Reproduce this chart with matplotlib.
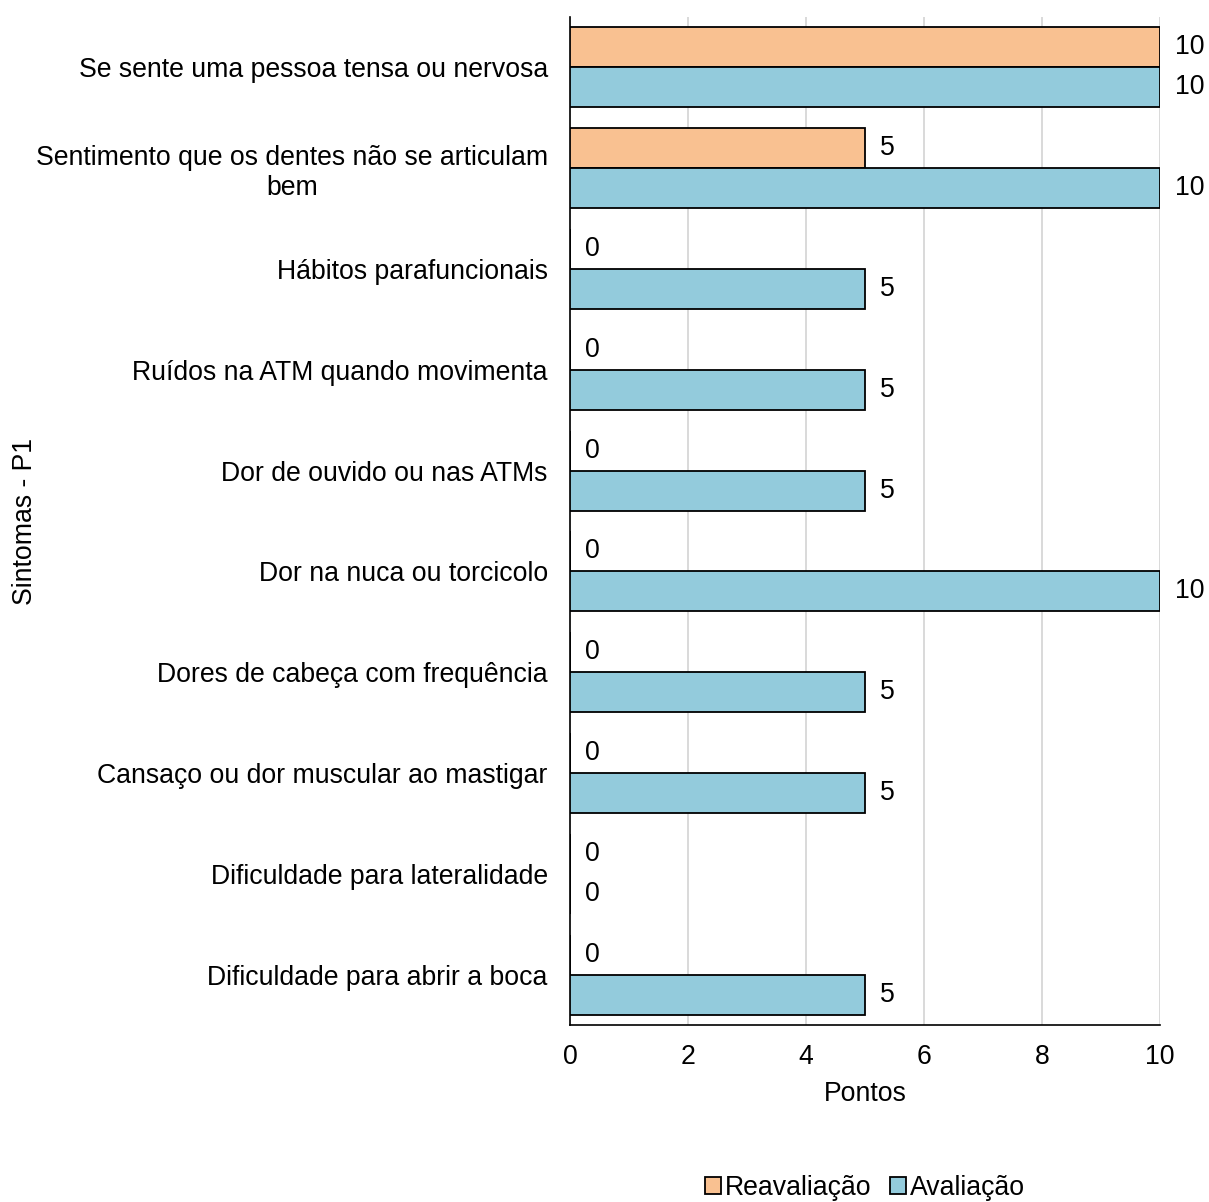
import matplotlib
matplotlib.use("Agg")
import matplotlib.pyplot as plt
import numpy as np

categories = [
    "Se sente uma pessoa tensa ou nervosa",
    "Sentimento que os dentes não se articulam\nbem",
    "Hábitos parafuncionais",
    "Ruídos na ATM quando movimenta",
    "Dor de ouvido ou nas ATMs",
    "Dor na nuca ou torcicolo",
    "Dores de cabeça com frequência",
    "Cansaço ou dor muscular ao mastigar",
    "Dificuldade para lateralidade",
    "Dificuldade para abrir a boca",
]
reavaliacao = [10, 5, 0, 0, 0, 0, 0, 0, 0, 0]
avaliacao = [10, 10, 5, 5, 5, 10, 5, 5, 0, 5]
xticks = [0, 2, 4, 6, 8, 10]

plt.rcParams['font.family'] = ['Liberation Sans', 'DejaVu Sans']
FS = 19.2

fig = plt.figure(figsize=(12.09, 12.02), dpi=100)
ax = fig.add_axes([570/1209, 177/1202, 590/1209, 1008/1202])

y = np.arange(len(categories))
h = 0.396
c_re = "#F9C191"
c_av = "#93CBDC"
b1 = ax.barh(y - h/2, reavaliacao, height=h, color=c_re, edgecolor="black", linewidth=1.3, label="Reavaliação", zorder=3)
b2 = ax.barh(y + h/2, avaliacao, height=h, color=c_av, edgecolor="black", linewidth=1.3, label="Avaliação", zorder=3)
for bars, vals in ((b1, reavaliacao), (b2, avaliacao)):
    for r, v in zip(bars, vals):
        ax.annotate(str(v), (v, r.get_y() + r.get_height()/2), xytext=(11, 0),
                    textcoords="offset points", ha="left", va="center", fontsize=FS)

ax.set_xlim(0, 10)
ax.set_ylim(len(categories) - 0.5, -0.5)
ax.set_xticks(xticks)
ax.set_xticklabels([str(t) for t in xticks], fontsize=FS)
ax.set_yticks(y)
ax.set_yticklabels(categories, fontsize=FS, ha="right")
ax.tick_params(axis="both", length=0)
ax.tick_params(axis="x", pad=13.5)
ax.tick_params(axis="y", pad=16)
for lbl in ax.get_yticklabels():
    lbl.set_multialignment("center")
ax.grid(axis="x", color="#D9D9D9", linewidth=1.4, zorder=0)
ax.set_axisbelow(True)
for s in ("top", "right"):
    ax.spines[s].set_visible(False)
for s in ("left", "bottom"):
    ax.spines[s].set_color("black")
    ax.spines[s].set_linewidth(1.2)
ax.set_xlabel("Pontos", fontsize=FS, labelpad=8)
fig.text(25/1209, 1 - 521/1202, "Sintomas - P1", rotation=90, ha="center", va="center", fontsize=FS)

leg = fig.legend(handles=[b1, b2], labels=["Reavaliação", "Avaliação"], loc="center",
                 bbox_to_anchor=(865/1209, 1 - 1188/1202), ncol=2, frameon=False,
                 fontsize=FS, handlelength=0.6, handleheight=0.6, handletextpad=0.15,
                 columnspacing=0.7)

fig.savefig("out.png", dpi=100)
